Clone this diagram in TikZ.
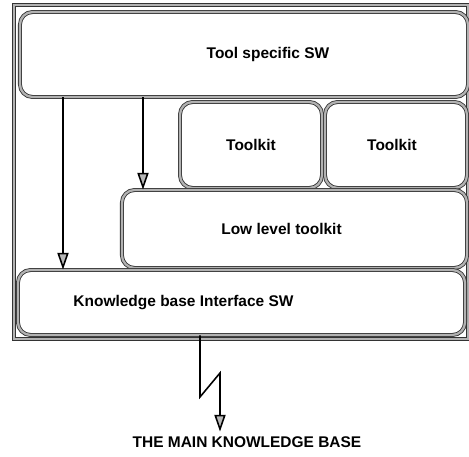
\documentclass[tikz,border=0pt]{standalone}
\usepackage{fontspec}
\setmainfont{Liberation Sans}
\usetikzlibrary{arrows.meta}
\tikzset{
  frame/.style={draw=black!80, double=gray!60, double distance=1.6pt, line width=0.6pt},
  layer/.style={frame, rounded corners=9pt, fill=white, inner sep=0pt},
  txt/.style={font=\bfseries\fontsize{11}{13}\selectfont},
  arr/.style={line width=1.1pt, -{Triangle[length=4.2mm,width=2.8mm,fill=gray!55]}}
}
\begin{document}
\begin{tikzpicture}[x=0.025cm, y=0.025cm]
\useasboundingbox (0,0) rectangle (469,456);
% outer frame
\draw[frame] (14,117) rectangle (468,451);
% layers
\node[layer, minimum width=11.2cm, minimum height=2.125cm,
      label={[name=tswl, txt, xshift=0.6cm]center:Tool specific SW}] (tsw) at (244,401.5) {};
\node[layer, minimum width=3.55cm, minimum height=2.15cm, txt] (tk1) at (251,311) {Toolkit};
\node[layer, minimum width=3.55cm, minimum height=2.15cm,
      label={[name=tk2l, txt, xshift=-0.1cm]center:Toolkit}] (tk2) at (396,311) {};
\node[layer, minimum width=8.625cm, minimum height=1.95cm,
      label={[name=lltl, txt, xshift=-0.325cm]center:Low level toolkit}] (llt) at (294.5,227) {};
\node[layer, minimum width=11.175cm, minimum height=1.625cm,
      label={[name=kbil, txt, xshift=-1.45cm]center:Knowledge base Interface SW}] (kbi) at (241.5,153.5) {};
\node[txt] (kb) at (247,14) {THE MAIN KNOWLEDGE BASE};
% connectors
\coordinate (a1) at (63,0);
\coordinate (a2) at (143,0);
\coordinate (z1) at (200,59);
\coordinate (z2) at (220,83);
\draw[arr] (tsw.south -| a1) -- (kbi.north -| a1);
\draw[arr] (tsw.south -| a2) -- (llt.north -| a2);
\draw[arr] (kbi.south -| z1) -- (z1) -- (z2) -- (kb.north -| z2);
\end{tikzpicture}
\end{document}
